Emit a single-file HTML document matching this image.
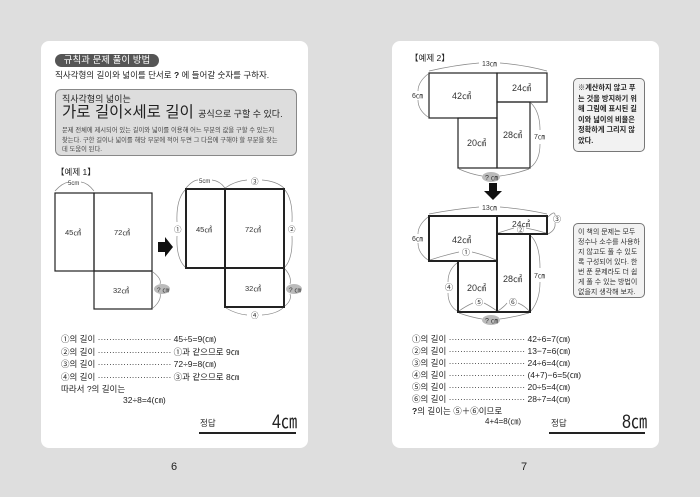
<!DOCTYPE html>
<html><head><meta charset="utf-8"><style>
body{margin:0;width:700px;height:497px;background:#dedede;position:relative;overflow:hidden;font-family:"Liberation Sans","Noto Sans CJK KR",sans-serif;color:#222}
.pg{position:absolute;background:#fff;border-radius:8px;top:41px;height:407px}
.t{position:absolute;white-space:nowrap;line-height:1}
.s9{font-size:8.5px}
svg{position:absolute;left:0;top:0}
</style></head><body>
<div class="pg" style="left:41px;width:267px"></div>
<div class="pg" style="left:392px;width:267px"></div>

<!-- left page -->
<div class="t" style="left:55px;top:54px;width:104px;height:13px;background:#555;border-radius:7px;color:#fff;font-size:9.5px;line-height:13px;text-align:center">규칙과 문제 풀이 방법</div>
<div class="t s9" style="left:55px;top:71px">직사각형의 길이와 넓이를 단서로 <b>?</b> 에 들어갈 숫자를 구하자.</div>
<div style="position:absolute;left:55px;top:89px;width:240px;height:65px;background:#ddd;border:1px solid #888;border-radius:6px"></div>
<div class="t" style="left:62px;top:95px;font-size:9px">직사각형의 넓이는</div>
<div class="t" style="left:62px;top:105px;font-size:15.5px">가로 길이×세로 길이 <span style="font-size:9px">공식으로 구할 수 있다.</span></div>
<div class="t" style="left:62px;top:126px;font-size:6.3px;line-height:9.7px;color:#444">문제 전체에 제시되어 있는 길이와 넓이를 이용해 어느 부분의 값을 구할 수 있는지<br>찾는다. 구한 길이나 넓이를 해당 부분에 적어 두면 그 다음에 구해야 할 부분을 찾는<br>데 도움이 된다.</div>
<div class="t s9" style="left:56px;top:168px">【예제 1】</div>

<div class="t s9" style="left:61px;top:333px;line-height:12.6px">①의 길이 ·························· 45÷5=9(㎝)<br>②의 길이 ·························· ①과 같으므로 9㎝<br>③의 길이 ·························· 72÷9=8(㎝)<br>④의 길이 ·························· ③과 같으므로 8㎝<br>따라서 ?의 길이는</div>
<div class="t s9" style="left:123px;top:396px">32÷8=4(㎝)</div>
<div class="t s9" style="left:200px;top:419px">정답</div>
<div class="t" style="left:272px;top:413px;font-size:19px;transform:scaleX(0.85);transform-origin:left">4㎝</div>
<div style="position:absolute;left:199px;top:432px;width:97px;height:2px;background:#222"></div>

<!-- right page -->
<div class="t s9" style="left:410px;top:54px">【예제 2】</div>
<div style="position:absolute;left:573px;top:78px;width:70px;height:72px;border:1px solid #777;border-radius:5px;background:#f2f2f2"></div>
<div class="t" style="left:578px;top:83px;font-size:7.2px;font-weight:bold;line-height:10.5px">※계산하지 않고 푸<br>는 것을 방지하기 위<br>해 그림에 표시된 길<br>이와 넓이의 비율은<br>정확하게 그리지 않<br>았다.</div>
<div style="position:absolute;left:573px;top:223px;width:70px;height:73px;border:1px solid #777;border-radius:5px;background:#f2f2f2"></div>
<div class="t" style="left:578px;top:228px;font-size:7px;line-height:10px;color:#333">이 책의 문제는 모두<br>정수나 소수를 사용하<br>지 않고도 풀 수 있도<br>록 구성되어 있다. 한<br>번 푼 문제라도 더 쉽<br>게 풀 수 있는 방법이<br>없을지 생각해 보자.</div>

<div class="t s9" style="left:412px;top:333px;line-height:12px">①의 길이 ··························· 42÷6=7(㎝)<br>②의 길이 ··························· 13−7=6(㎝)<br>③의 길이 ··························· 24÷6=4(㎝)<br>④의 길이 ··························· (4+7)−6=5(㎝)<br>⑤의 길이 ··························· 20÷5=4(㎝)<br>⑥의 길이 ··························· 28÷7=4(㎝)<br><b>?</b>의 길이는 ⑤＋⑥이므로</div>
<div class="t" style="left:485px;top:418px;font-size:8px">4+4=8(㎝)</div>
<div class="t s9" style="left:551px;top:419px">정답</div>
<div class="t" style="left:622px;top:413px;font-size:19px;transform:scaleX(0.85);transform-origin:left">8㎝</div>
<div style="position:absolute;left:549px;top:432px;width:96px;height:2px;background:#222"></div>

<div class="t" style="left:171px;top:462px;font-size:11px">6</div>
<div class="t" style="left:521px;top:462px;font-size:11px">7</div>

<svg width="700" height="497" viewBox="0 0 700 497" font-family="Liberation Sans, Noto Sans CJK KR, sans-serif" font-size="7.5" fill="#333">
<g fill="none" stroke="#222" stroke-width="1.2">
<rect x="55" y="193" width="39" height="78"/><rect x="94" y="193" width="58" height="78"/><rect x="94" y="271" width="58" height="38"/>
</g>
<g fill="none" stroke="#222" stroke-width="2">
<rect x="186" y="189" width="39" height="79"/><rect x="225" y="189" width="59" height="79"/><rect x="225" y="268" width="59" height="39"/>
</g>
<g fill="none" stroke="#888" stroke-width="0.7">
<path d="M55 191 Q62 183 69 182 M81 182 Q88 183 94 191"/>
<path d="M153 272 Q162 279 160 284 M160 293 Q162 300 153 308"/>
<path d="M186 188 Q193 180 198 180 M212 180 Q220 181 225 188"/>
<path d="M225 188 Q235 181 247 180 M262 180 Q276 181 284 188"/>
<path d="M185 190 Q176 200 177 222 M177 236 Q176 258 185 267"/>
<path d="M285 190 Q293 200 292 222 M292 236 Q293 258 285 267"/>
<path d="M285 269 Q292 277 290 284 M290 294 Q292 300 285 306"/>
<path d="M226 308 Q236 314 247 315 M262 315 Q276 314 283 308"/>
<path d="M429 71 Q455 65 479 63 M500 63 Q525 65 547 71"/>
<path d="M428 74 Q418 82 418 91 M418 100 Q418 110 428 117"/>
<path d="M531 103 Q540 112 540 130 M540 144 Q540 160 531 167"/>
<path d="M459 169 Q470 174 482 176 M500 176 Q515 174 529 169"/>
<path d="M429 214 Q455 209 479 207 M500 207 Q525 209 547 214"/>
<path d="M428 217 Q418 225 418 234 M418 243 Q418 253 428 260"/>
<path d="M548 217 Q555 210 555 215 M555 223 Q556 230 548 234"/>
<path d="M498 233 Q507 230 514 228 M526 228 Q536 230 546 233"/>
<path d="M430 260 Q445 255 459 252 M472 252 Q485 255 496 260"/>
<path d="M457 263 Q448 270 448 282 M448 293 Q448 305 457 311"/>
<path d="M531 236 Q540 245 540 268 M540 282 Q540 300 531 311"/>
<path d="M459 311 Q466 306 473 303 M484 303 Q490 306 497 311"/>
<path d="M498 311 Q505 306 507 303 M518 303 Q525 306 529 311"/>
<path d="M459 313 Q470 317 482 319 M500 319 Q515 317 529 313"/>
</g>
<g fill="none" stroke="#222" stroke-width="1.2">
<rect x="429" y="73" width="68" height="45"/><rect x="497" y="73" width="50" height="29"/><rect x="458" y="118" width="39" height="50"/><rect x="497" y="102" width="33" height="66"/>
</g>
<g fill="none" stroke="#222" stroke-width="2">
<rect x="429" y="216" width="68" height="45"/><rect x="497" y="216" width="50" height="18"/><rect x="458" y="261" width="39" height="51"/><rect x="497" y="234" width="33" height="78"/>
</g>
<path d="M158 242 h7 v-5 l8 10 l-8 10 v-5 h-7z" fill="#111"/>
<path d="M489 183 h8 v8 h5 l-9 9 l-9 -9 h5z" fill="#111"/>
<g fill="#bbb"><ellipse cx="162" cy="289" rx="8" ry="5"/><ellipse cx="294" cy="289" rx="8" ry="5"/><ellipse cx="491" cy="177" rx="9" ry="5"/><ellipse cx="491" cy="320" rx="9" ry="5"/></g>
<g>
<text x="68" y="185" font-size="6">5cm</text>
<text x="65" y="235">45㎠</text><text x="114" y="235">72㎠</text><text x="113" y="293">32㎠</text>
<text x="157" y="292" font-size="6.5">? ㎝</text>
<text x="199" y="183" font-size="6">5cm</text><text x="251" y="184">③</text>
<text x="174" y="232">①</text><text x="288" y="232">②</text><text x="251" y="318">④</text>
<text x="196" y="232">45㎠</text><text x="245" y="232">72㎠</text><text x="245" y="291">32㎠</text>
<text x="289" y="292" font-size="6.5">? ㎝</text>
<text x="482" y="66" font-size="7">13㎝</text><text x="412" y="98" font-size="7">6㎝</text><text x="534" y="139" font-size="7">7㎝</text>
<text x="452" y="99" font-size="9">42㎠</text><text x="512" y="91" font-size="9">24㎠</text><text x="467" y="146" font-size="9">20㎠</text><text x="503" y="138" font-size="9">28㎠</text>
<text x="485" y="180" font-size="7">? ㎝</text>
<text x="482" y="210" font-size="7">13㎝</text><text x="412" y="241" font-size="7">6㎝</text><text x="534" y="278" font-size="7">7㎝</text>
<text x="452" y="243" font-size="9">42㎠</text><text x="512" y="227" font-size="8.5">24㎠</text><text x="467" y="291" font-size="9">20㎠</text><text x="503" y="282" font-size="9">28㎠</text>
<text x="462" y="255" font-size="8">①</text><text x="517" y="232" font-size="7">②</text><text x="553" y="222" font-size="8">③</text>
<text x="445" y="290" font-size="8">④</text><text x="475" y="305" font-size="8">⑤</text><text x="509" y="305" font-size="8">⑥</text>
<text x="485" y="323" font-size="7">? ㎝</text>
</g>
</svg>
</body></html>
